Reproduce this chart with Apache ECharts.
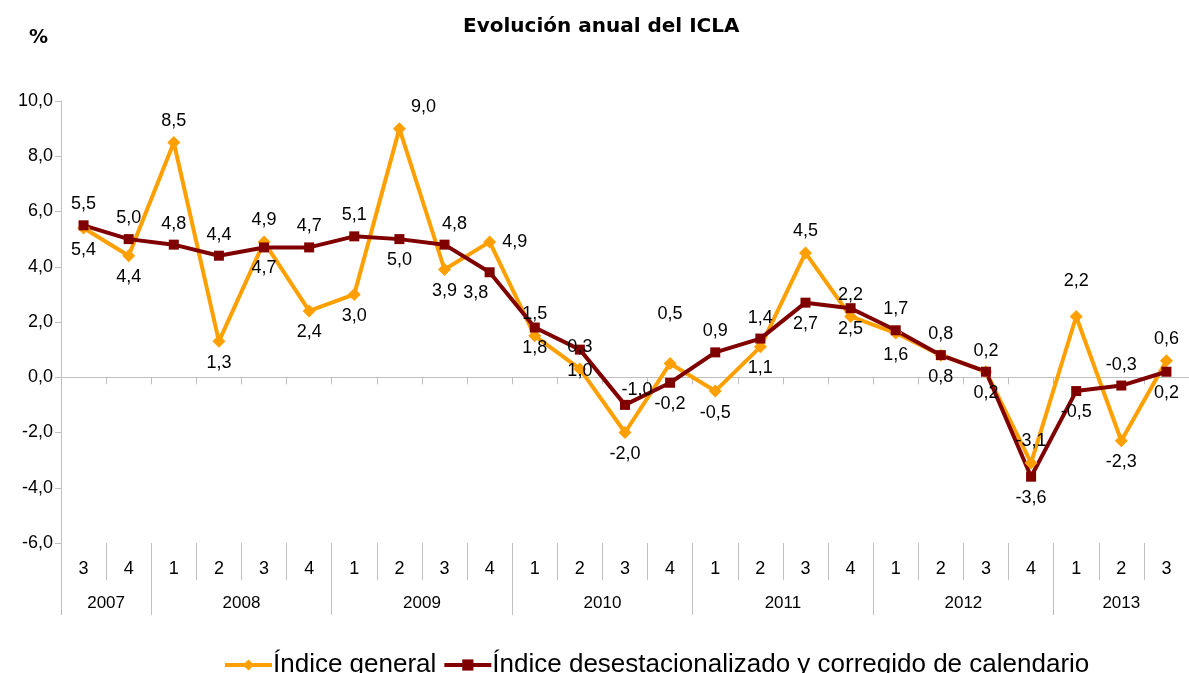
<!DOCTYPE html>
<html>
<head>
<meta charset="utf-8">
<title>Evolución anual del ICLA</title>
<script src="https://cdn.jsdelivr.net/npm/echarts@6/dist/echarts.min.js"></script>
<style>
  html, body { margin: 0; padding: 0; background: #fff; }
  #chart { width: 1189px; height: 673px; }
</style>
</head>
<body>
<div id="chart"></div>
<script>
// trimestres (eje X) y años
const quarters = ['3', '4', '1', '2', '3', '4', '1', '2', '3', '4', '1', '2', '3', '4',
  '1', '2', '3', '4', '1', '2', '3', '4', '1', '2', '3'];
const years = ['2007', '2008', '2009', '2010', '2011', '2012', '2013'];
const quartersPerYear = [2, 4, 4, 4, 4, 4, 3];

// tasas de variación anual (%)
const indiceGeneral = [5.4, 4.4, 8.5, 1.3, 4.9, 2.4, 3.0, 9.0, 3.9, 4.9, 1.5, 0.3, -2.0,
  0.5, -0.5, 1.1, 4.5, 2.2, 1.6, 0.8, 0.2, -3.1, 2.2, -2.3, 0.6];
const indiceDesest = [5.5, 5.0, 4.8, 4.4, 4.7, 4.7, 5.1, 5.0, 4.8, 3.8, 1.8, 1.0, -1.0,
  -0.2, 0.9, 1.4, 2.7, 2.5, 1.7, 0.8, 0.2, -3.6, -0.5, -0.3, 0.2];

const yTicks = { min: -6, max: 10, step: 2 };

// donde va cada etiqueta (solo estilo)
const posGeneral = ['bottom', 'bottom', 'top', 'bottom', 'top', 'bottom', 'bottom', 'top',
  'bottom', 'right', 'top', 'top', 'bottom', 'top', 'bottom', 'bottom', 'top', 'top',
  'bottom', 'bottom', 'bottom', 'top', 'top', 'bottom', 'top'];
const posDesest = ['top', 'top', 'top', 'top', 'bottom', 'top', 'top', 'bottom', 'top',
  'bottom', 'bottom', 'bottom', 'top', 'bottom', 'top', 'top', 'bottom', 'bottom', 'top',
  'top', 'top', 'bottom', 'bottom', 'top', 'bottom'];
// algunos desplazamientos a mano, como en el original
const nudgeGeneral = { 7: [24, 0], 13: [0, -28], 22: [0, -14] };
const nudgeDesest = { 8: [10, 0], 12: [12, 6], 9: [-14, 0] };

const FONT = 'Liberation Sans, Arial, sans-serif';
const GRID_LEFT = 61;
const GRID_WIDTH = 1140;
const GREY = '#BFBFBF';

const fmt = v => v.toFixed(1).replace('.', ',');

// limites y centros de cada año sobre un eje de 0..25
const yearBounds = [0];
const yearCenters = [];
const yearByCenter = {};
quartersPerYear.forEach((n, i) => {
  const start = yearBounds[yearBounds.length - 1];
  yearCenters.push(start + n / 2);
  yearByCenter[start + n / 2] = years[i];
  yearBounds.push(start + n);
});

function withLabels(values, positions, nudges) {
  return values.map((v, i) => {
    const label = { position: positions[i] };
    if (nudges[i]) label.offset = nudges[i];
    return { value: v, label };
  });
}

const chart = echarts.init(document.getElementById('chart'));

const option = {
  animation: false,
  textStyle: { fontFamily: FONT },
  title: [
    {
      text: 'Evolución anual del ICLA',
      left: 458,
      top: 12,
      textStyle: { fontFamily: 'DejaVu Sans', fontWeight: 'bold', fontSize: 20, color: '#000' }
    },
    {
      text: '%',
      left: 24,
      top: 24,
      textStyle: { fontFamily: 'DejaVu Sans', fontWeight: 'bold', fontSize: 19, color: '#000' }
    }
  ],
  legend: {
    left: 218,
    top: 647,
    itemWidth: 47,
    itemHeight: 14,
    itemGap: 6,
    lineStyle: { width: 4 },
    textStyle: { fontFamily: FONT, fontSize: 26, color: '#000', padding: [0, 0, 0, -4] }
  },
  grid: [
    { left: GRID_LEFT, top: 101, width: GRID_WIDTH, height: 442 },
    { left: GRID_LEFT, top: 543, width: GRID_WIDTH, height: 1 }
  ],
  xAxis: [
    {
      // linea del cero
      type: 'category',
      gridIndex: 0,
      position: 'top',
      data: quarters,
      boundaryGap: true,
      axisLine: { onZero: true, lineStyle: { color: GREY, width: 1 } },
      axisTick: { show: true, inside: true, length: 7, interval: 0, lineStyle: { color: GREY } },
      axisLabel: { show: false },
      splitLine: { show: false }
    },
    {
      // trimestres abajo
      type: 'category',
      gridIndex: 0,
      position: 'bottom',
      data: quarters,
      boundaryGap: true,
      axisLine: { show: false, onZero: false },
      axisTick: { show: true, length: 37, interval: 0, lineStyle: { color: GREY } },
      axisLabel: { interval: 0, margin: 17, fontSize: 18, color: '#000', fontFamily: FONT },
      splitLine: { show: false }
    },
    {
      // años
      type: 'value',
      gridIndex: 1,
      position: 'bottom',
      min: 0,
      max: quarters.length,
      axisLine: { show: false, onZero: false },
      axisTick: { show: true, length: 71, customValues: yearBounds, lineStyle: { color: GREY } },
      axisLabel: {
        customValues: yearCenters,
        margin: 51,
        fontSize: 17,
        color: '#000',
        fontFamily: FONT,
        formatter: v => yearByCenter[v] || ''
      },
      splitLine: { show: false }
    }
  ],
  yAxis: [
    {
      type: 'value',
      gridIndex: 0,
      min: yTicks.min,
      max: yTicks.max,
      interval: yTicks.step,
      axisLine: { show: true, lineStyle: { color: GREY } },
      axisTick: { show: true, length: 6, lineStyle: { color: GREY } },
      axisLabel: { formatter: fmt, fontSize: 18, color: '#000', margin: 8, fontFamily: FONT },
      splitLine: { show: false }
    },
    {
      type: 'value',
      gridIndex: 1,
      min: 0,
      max: 1,
      show: false
    }
  ],
  series: [
    {
      name: 'Índice general',
      type: 'line',
      xAxisIndex: 0,
      yAxisIndex: 0,
      data: withLabels(indiceGeneral, posGeneral, nudgeGeneral),
      symbol: 'diamond',
      symbolSize: 13,
      lineStyle: { color: '#FFA000', width: 4 },
      itemStyle: { color: '#FFA000' },
      label: {
        show: true,
        distance: 6,
        fontSize: 18,
        color: '#000',
        fontFamily: FONT,
        formatter: p => fmt(p.value)
      }
    },
    {
      name: 'Índice desestacionalizado y corregido de calendario',
      type: 'line',
      xAxisIndex: 0,
      yAxisIndex: 0,
      data: withLabels(indiceDesest, posDesest, nudgeDesest),
      symbol: 'rect',
      symbolSize: 10,
      lineStyle: { color: '#800000', width: 4 },
      itemStyle: { color: '#800000' },
      label: {
        show: true,
        distance: 7,
        fontSize: 18,
        color: '#000',
        fontFamily: FONT,
        formatter: p => fmt(p.value)
      }
    }
  ]
};

chart.setOption(option);
</script>
</body>
</html>
